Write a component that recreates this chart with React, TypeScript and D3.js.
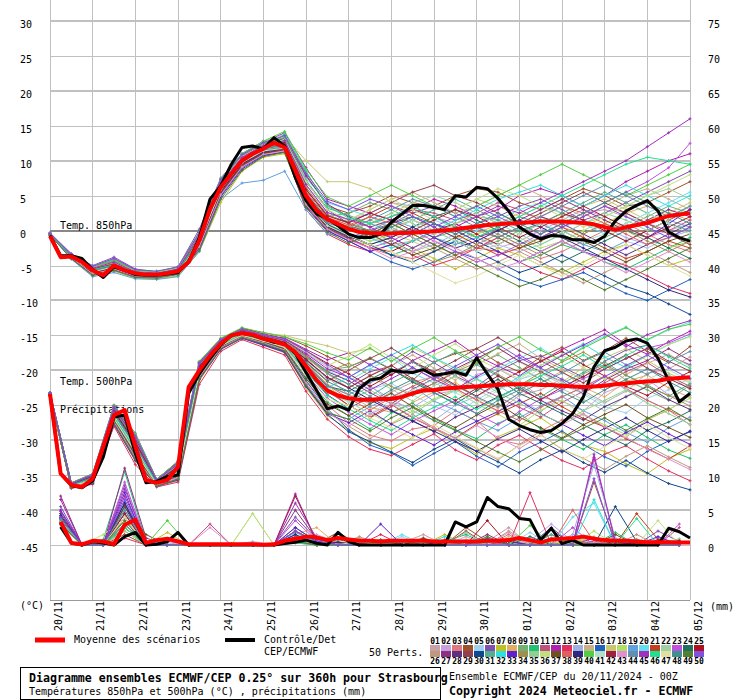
import React from "react";
import * as d3 from "d3";

// ---------- time axes (hours from 20/11 00Z) ----------
const HOURS6 = d3.range(0, 361, 6);
const HOURS12 = d3.range(0, 361, 12);
const PHOURS6 = d3.range(6, 361, 6);
const PHOURS12 = d3.range(6, 355, 12);

const dayLabels = ["20/11","21/11","22/11","23/11","24/11","25/11","26/11","27/11","28/11","29/11","30/11","01/12","02/12","03/12","04/12","05/12"];
const leftTicks = [30,25,20,15,10,5,0,-5,-10,-15,-20,-25,-30,-35,-40,-45];
const rightTicks = [75,70,65,60,55,50,45,40,35,30,25,20,15,10,5,0];

const memberColors = [
"#c8a0a8","#c8a0e0","#e07880","#a05028","#a0d0f0","#8050b0","#c0c020","#e0b060","#70b070","#20c070",
"#c05080","#b020b0","#e03060","#a0b0e0","#c8b088","#2060c0","#c8c870","#b0e060","#60a0e0","#60e0f0",
"#c04020","#a0d0a0","#c050e0","#207060","#b01020","#c09880","#903080","#603080","#904050","#104890",
"#50b090","#30e0e0","#6020d0","#a09050","#90d090","#c0e080","#705020","#e06060","#302880","#50d040",
"#b0e0c8","#a02040","#e090d0","#6090b0","#a030c0","#20e090","#e0e0a0","#409090","#508030","#8050e0"];

// ---------- mean and control (6h) ----------
const t850Mean = [-0.8,-3.8,-3.7,-4.5,-5.7,-6.4,-5.0,-5.7,-6.1,-6.3,-6.3,-6.1,-5.8,-4.5,-1.4,3.1,6.2,8.1,10.0,11.0,11.7,12.6,11.9,8.6,5.0,2.9,1.6,0.95,0.24,-0.2,-0.35,-0.4,-0.4,-0.35,-0.3,-0.2,-0.1,0,0.2,0.4,0.6,0.8,0.9,1.0,1.1,1.2,1.3,1.3,1.3,1.2,1.1,0.9,0.5,0.1,0.5,0.8,1.1,1.6,2.1,2.3,2.5];
const t850Ctrl = [-0.7,-3.6,-3.6,-4.0,-5.6,-6.7,-5.2,-5.7,-6.3,-6.4,-6.4,-6.2,-6.0,-4.5,-1.0,4.5,6.4,9.5,11.9,12.1,11.7,13.3,12.1,7.6,4.3,2.4,1.7,0.7,-0.5,-1.0,-1.0,-0.5,1.2,2.4,3.6,3.6,3.3,3.0,5.0,4.8,6.2,6.0,4.6,2.8,0.5,-0.5,-1.2,-0.7,-0.8,-1.3,-1.3,-1.7,-0.8,1.4,2.8,3.6,4.3,2.8,-0.2,-1.0,-1.5];
const t500Mean = [-23.4,-34.8,-36.4,-36.7,-35.5,-30.9,-26.4,-25.7,-30.9,-35.7,-36.1,-35.7,-33.8,-22.4,-20,-17.9,-16.2,-15.0,-14.7,-14.9,-15.5,-15.8,-16.3,-17.4,-19.4,-21.4,-22.9,-23.6,-24.0,-24.2,-24.2,-24.1,-24.1,-23.8,-23.3,-22.9,-22.8,-22.6,-22.5,-22.4,-22.3,-22.2,-22.1,-22.0,-22.0,-22.0,-22.1,-22.1,-22.2,-22.3,-22.4,-22.3,-22.2,-22.0,-21.9,-21.7,-21.6,-21.5,-21.2,-21.1,-21.0];
const t500Ctrl = [-23.4,-34.8,-36.5,-36.8,-35.8,-32.4,-26.7,-26.4,-31.9,-36.1,-35.9,-35.2,-35.0,-23.3,-20.5,-18.3,-16.4,-15.0,-14.7,-15.0,-15.5,-16.0,-16.2,-17.6,-20.3,-22.9,-25.5,-25.1,-25.7,-22.6,-21.4,-21.1,-20.0,-20.2,-20.3,-19.9,-20.7,-20.5,-20.2,-20.7,-18.2,-20.5,-22.7,-27.0,-27.9,-28.5,-28.9,-28.6,-27.6,-26.2,-23.8,-19.5,-17.2,-16.7,-15.8,-15.5,-16.1,-18.3,-21.5,-24.5,-23.3];
const precipMean = [3.3,0.3,0.1,0.6,0.5,0.1,2.9,3.6,0.3,0.7,0.9,0.5,0.1,0.1,0.1,0.1,0.1,0.1,0.1,0.05,0.1,0.6,0.9,1.2,1.1,0.7,1.0,0.8,0.6,0.6,0.5,0.6,0.6,0.6,0.6,0.5,0.5,0.5,0.5,0.5,0.6,0.6,0.7,1.0,0.7,0.35,0.8,0.9,1.0,1.2,0.9,0.7,0.6,0.6,0.5,0.4,0.4,0.4,0.35,0.35];
const precipCtrl = [2.6,0.3,0,0.5,0.3,0,1.2,1.8,0,0.1,0.5,1.8,0,0,0,0,0,0,0,0,0,0.2,0.4,0.7,0.25,0,1.8,0.5,0,0,0,0,0,0,0,0,0,3.3,2.6,3.3,6.8,5.5,5.2,3.8,3.6,0.7,2.4,0.2,0.7,0,0,0,0,0,0,0,0,2.4,1.9,1.0];

// ---------- 50 perturbed members (12h) ----------
const t850Members = [
[-0.5,-3.6,-5.5,-4.8,-6.0,-6.4,-5.9,-1.0,6.5,10.2,12.0,12.5,5.5,1.5,0.5,-1,-2,-1.5,-0.5,1,2,1.5,0.5,-0.5,1,2.5,3,2,1,2,3.5],
[-0.4,-3.8,-5.9,-5.2,-6.2,-6.1,-5.6,-1.8,5.8,9.8,11.5,12.8,6.5,2.5,1.5,2.5,4,3.5,2,1,-1,-2.5,-1.5,0,1.5,3,2,0.5,-1,0,1],
[-0.6,-3.9,-6.2,-5.5,-6.5,-6.6,-6.0,-2.5,5.0,9.0,11.0,11.8,4.0,0.5,-1,-2.5,-3.5,-4,-3,-1.5,0,-1,-2.5,-4,-3,-1.5,0,1,-0.5,-2,-3],
[-0.5,-3.5,-5.3,-4.2,-5.8,-6.2,-5.5,-0.5,7.0,10.8,12.5,13.5,8.0,3.5,2.5,3.5,5,4,3.5,5,6,5.5,4,3,4.5,6,5,3.5,4,5.5,7],
[-0.5,-3.7,-5.7,-5.0,-6.1,-6.3,-5.8,-1.5,6.0,10.0,11.8,12.2,4.5,1.0,-0.5,-1.5,-1,0.5,1.5,0.5,-1,-2,-3,-2,-0.5,1,0,-1.5,-2.5,-1,0.5],
[-0.3,-3.4,-5.0,-3.8,-5.5,-5.9,-5.2,0.2,7.5,11.0,12.8,13.2,7.0,3.0,1.0,0,1,2.5,3.5,2.5,1,2,3.5,4.5,3,1.5,2.5,4,5.5,7,8.5],
[-0.6,-4.0,-6.5,-5.8,-6.8,-6.9,-6.5,-3.0,4.0,8.5,10.5,11.0,3.5,0.5,-1.5,-2,-1,-2.5,-4,-5.5,-4,-2.5,-3.5,-5,-6,-4.5,-3,-2,-3.5,-5,-4],
[-0.5,-3.6,-5.6,-5.1,-6.0,-6.2,-5.7,-1.2,6.3,10.1,11.6,12.0,5.0,1.8,0.8,-0.5,0.5,1.5,0.5,-1,-0.5,1,2.5,2,0.5,-0.5,1,2.5,3.5,2.5,1.5],
[-0.4,-3.5,-5.4,-4.5,-5.9,-6.0,-5.4,-0.8,6.8,10.5,12.2,12.8,6.0,2.0,2.5,4,3,1.5,0,-1.5,-2.5,-1.5,0,1,-0.5,-2,-1,0.5,2,3.5,2.5],
[-0.5,-3.8,-6.0,-5.3,-6.4,-6.5,-6.0,-2.0,5.5,9.5,11.2,11.5,4.2,0.8,-0.8,-2,-3.5,-2.5,-1,0,-1.5,-3,-4.5,-3.5,-2,-3,-4.5,-5.5,-4,-2.5,-1],
[-0.5,-3.7,-5.8,-4.9,-6.2,-6.4,-5.9,-1.3,6.2,9.9,11.4,12.4,4.8,1.2,0.2,1,2,3,2.5,1.5,2.5,4,3,1.5,0.5,2,3.5,2.5,1,0,1.5],
[-0.4,-3.3,-5.2,-4.0,-5.6,-6.0,-5.3,-0.3,7.2,10.8,12.6,14.0,9.0,4.5,3.5,2.5,1.5,3,4.5,3.5,2,3,5,6,5,3.5,5,7,8.5,10,11],
[-0.6,-3.9,-6.1,-5.4,-6.3,-6.5,-6.1,-2.2,5.2,9.2,11.0,11.5,3.0,-0.5,-2,-3,-2,-3.5,-5,-4,-2.5,-3,-4.5,-6,-7,-5.5,-4,-5,-6.5,-8,-9],
[-0.5,-3.6,-5.6,-4.9,-6.0,-6.2,-5.7,-1.4,6.1,10.0,11.7,12.1,5.0,1.5,0.3,-0.5,-2,-3,-2,-0.5,0.5,-0.5,-2,-1,0.5,1.5,0.5,-1,-2,-1,0],
[-0.5,-3.7,-5.7,-5.1,-6.1,-6.3,-5.9,-1.6,5.9,9.8,11.5,12.0,4.6,1.3,1.5,3,4.5,5.5,4,2.5,3.5,5,6.5,5,3.5,2,3.5,5,6,4.5,3],
[-0.5,-3.8,-5.9,-5.3,-6.3,-6.6,-6.2,-2.4,5.0,9.0,10.8,11.2,3.8,0,-1.5,-3,-4.5,-5.5,-4.5,-3,-4,-5.5,-7,-8,-7,-6,-7.5,-9,-10,-8.5,-7],
[-0.4,-3.5,-5.4,-4.6,-5.9,-6.1,-5.5,-0.7,6.9,10.6,12.3,13.5,10,7,7,6,4,3,2,3,4.5,3.5,2,1,2,3.5,4.5,3,1.5,2.5,4],
[-0.5,-3.7,-5.8,-5.0,-6.2,-6.3,-5.8,-1.5,6.0,9.9,11.6,11.9,4.4,1.0,-0.5,-1.5,-0.5,-1.5,-3,-2,-0.5,0.5,-1,-2.5,-1.5,0,1.5,0.5,-1,-2.5,-1.5],
[-0.6,-4.1,-6.6,-6.0,-6.9,-7.0,-6.6,-3.0,4.5,6.8,7.2,8.5,3.0,-0.5,-1,0,1.5,0.5,-1,-2,-1,0.5,2,1,-0.5,-2,-3,-1.5,0,1.5,0.5],
[-0.5,-3.6,-5.5,-4.7,-6.0,-6.2,-5.6,-1.1,6.4,10.3,12.1,13.0,7.5,4.0,3,2,0.5,-1,-2.5,-1.5,0,1.5,3,4,2.5,1,-0.5,1,2.5,4,5.5],
[-0.5,-3.7,-5.7,-5.0,-6.1,-6.4,-5.9,-1.5,6.0,9.8,11.5,12.2,5.2,1.6,0.5,2,3.5,2.5,1,-0.5,-2,-3.5,-2.5,-1,0.5,-1,-2.5,-4,-3,-1.5,-2.5],
[-0.4,-3.4,-5.1,-4.1,-5.7,-5.9,-5.3,-0.4,7.3,10.9,12.7,13.8,8.5,3.5,2,1,2.5,4,5,4,2.5,1,2,3.5,2.5,1,2,3.5,5,6,4.5],
[-0.5,-3.8,-5.9,-5.2,-6.3,-6.4,-5.9,-1.7,5.8,9.6,11.3,11.8,4.0,0.5,-1,-2.5,-1.5,0,-1.5,-3,-4.5,-3.5,-2,-0.5,1,2.5,4,5.5,7,9,12.5],
[-0.5,-3.6,-5.6,-5.0,-6.0,-6.2,-5.7,-1.3,6.2,10.1,11.8,12.3,5.3,1.7,0.5,0,-1,0.5,2,3,1.5,0,-1.5,-3,-4.5,-3,-1.5,0,-1,-2.5,-4],
[-0.6,-3.9,-6.0,-5.4,-6.4,-6.5,-6.0,-2.1,5.4,9.4,11.1,11.6,3.6,0.2,-1.2,-2.5,-3,-1.5,0,1,-0.5,-2,-0.5,1,2.5,1.5,0,-1.5,0,1.5,3],
[-0.5,-3.7,-5.7,-5.1,-6.1,-6.3,-5.8,-1.4,6.1,9.9,11.6,12.1,4.9,1.4,0.4,1.5,0.5,-1,-2.5,-4,-5.5,-4.5,-3,-4.5,-6,-7.5,-6,-4.5,-3,-4.5,-6],
[-0.4,-3.5,-5.3,-4.4,-5.8,-6.0,-5.4,-0.6,7.0,10.7,12.4,13.2,7.8,3.8,2,0.5,1.5,3,2,0.5,-1,0,1.5,3,4.5,3,1.5,0,1.5,3,2],
[-0.5,-3.8,-6.0,-5.2,-6.3,-6.5,-6.0,-1.9,5.6,9.5,11.2,11.7,4.1,0.6,-1,-0.5,1,2,0.5,-1,-2.5,-1,0.5,2,1,-0.5,-2,-3.5,-2,-0.5,1],
[-0.5,-3.6,-5.6,-4.8,-6.0,-6.2,-5.7,-1.2,6.4,10.2,11.9,12.5,5.8,2.2,1.2,2.5,4,5.5,6.5,5,4,2.5,1,2.5,4,5.5,4,2.5,1,-0.5,-2],
[-0.5,-3.7,-5.8,-5.0,-6.2,-6.4,-5.9,-1.6,5.9,9.8,11.4,11.9,4.3,0.9,-0.6,-2,-3.5,-4.5,-3,-1.5,-3,-4.5,-6,-5,-3.5,-5,-6.5,-8,-9,-10.5,-12],
[-0.4,-3.4,-5.2,-4.3,-5.7,-5.9,-5.3,-0.5,7.1,10.8,12.5,13.3,7.2,3.2,2.2,1,0,1.5,3,4.5,3,1.5,0,1,2.5,4,5.5,4,2.5,1,0],
[-0.5,-3.7,-5.7,-5.0,-6.1,-6.3,-5.8,-1.4,6.1,10.0,11.7,12.2,5.1,1.5,0.6,-1,-2.5,-1.5,0,1.5,3,4.5,5.5,6.5,5,3.5,5,6.5,5,3.5,5],
[-0.6,-4.0,-6.3,-5.6,-6.6,-6.7,-6.2,-2.6,4.8,8.8,10.7,11.3,3.4,0,-1.5,-3,-2,-0.5,1,0,-1.5,-3,-4.5,-3,-1.5,-3,-4,-2.5,-1,1,3],
[-0.5,-3.6,-5.5,-4.7,-6.0,-6.2,-5.6,-1.0,6.6,10.4,12.1,12.7,6.2,2.3,1,0,-1.5,-3,-4.5,-3.5,-2,-0.5,-2,-3.5,-2,-0.5,1,0,-1.5,-3,-1.5],
[-0.5,-3.7,-5.8,-5.1,-6.2,-6.4,-5.9,-1.5,6.0,9.8,11.5,12.0,4.7,1.2,0,1,2.5,1,-0.5,1,2.5,1,-0.5,-2,-0.5,1,2.5,1.5,0,1.5,3.5],
[-0.4,-3.5,-5.3,-4.5,-5.8,-6.0,-5.4,-0.7,6.9,10.6,12.3,13.0,7.0,3.0,1.5,3,4.5,3,1.5,3,4.5,6,5,3.5,2,0.5,2,3.5,5,6.5,8],
[-0.6,-3.9,-6.1,-5.5,-6.4,-6.6,-6.1,-2.2,5.3,9.3,11.0,11.6,3.9,0.4,-1.2,-0.5,-2,-3.5,-2.5,-1,0.5,-1,-2.5,-1.5,0,-1.5,-3,-4.5,-3,-1.5,-0.5],
[-0.5,-3.6,-5.6,-4.9,-6.0,-6.2,-5.7,-1.3,6.3,10.1,11.8,12.4,5.6,1.9,0.8,2,1,-0.5,-2,-3.5,-2.5,-1,0.5,2,3.5,2.5,1,-0.5,-2,-1,0.5],
[-0.5,-3.8,-5.9,-5.2,-6.3,-6.5,-6.0,-1.8,5.7,9.6,11.3,11.8,4.2,0.6,-0.8,-2,-1,0.5,-1,-2.5,-1.5,0,1.5,0.5,-1,-2.5,-4,-5.5,-7,-8.5,-9.5],
[-0.4,-3.4,-5.2,-4.2,-5.7,-5.9,-5.2,-0.2,7.4,11.0,12.8,14.2,8.8,4.8,3.5,5,6.5,5,3.5,2,3.5,5,6.5,8,9.5,8,6.5,5,6.5,8,9.5],
[-0.5,-3.7,-5.7,-5.0,-6.1,-6.3,-5.8,-1.4,6.1,9.9,11.6,12.1,4.8,1.3,0.2,-1,0,1.5,0,-1.5,-3,-2,-0.5,1,0,-1.5,-0.5,1,2.5,1,-0.5],
[-0.5,-3.6,-5.5,-4.8,-6.0,-6.2,-5.6,-1.1,6.5,10.3,12.0,12.6,5.9,2.1,1.1,2.5,1.5,0,1.5,3,2,0.5,-1,0.5,2,3.5,2,0.5,-1,0.5,2],
[-0.6,-3.9,-6.2,-5.5,-6.5,-6.6,-6.1,-2.3,5.1,9.1,10.9,11.4,3.7,0.2,-1.3,-2.5,-4,-3,-1.5,-2.5,-4,-5.5,-4.5,-3,-1.5,-3,-4.5,-6,-4.5,-3,-4.5],
[-0.5,-3.7,-5.8,-5.1,-6.1,-6.3,-5.8,-1.5,6.0,9.9,11.5,12.0,4.6,1.1,0.1,1.5,3,4.5,3.5,2,0.5,-1,0.5,2,3.5,5,6.5,5,3.5,2,3.5],
[-0.4,-3.5,-5.4,-4.5,-5.9,-6.1,-5.5,-0.7,6.8,10.5,12.2,12.9,6.6,2.6,1.6,0.5,-1,-2.5,-1,0.5,2,3.5,2.5,4,5.5,7,8.5,10,12,14,16],
[-0.5,-3.6,-5.6,-4.9,-6.0,-6.2,-5.7,-1.2,6.3,10.1,11.8,13.8,8.5,3.5,1.8,1,2,3.5,2,0.5,-1,0.5,2,3.5,5,6.5,8,9.5,10.5,10,9.5],
[-0.5,-3.8,-5.9,-5.2,-6.2,-6.4,-5.9,-1.7,5.8,9.7,11.4,11.8,4.1,0.7,-0.7,-2,-3,-4.5,-6,-7.5,-6.5,-5,-3.5,-5,-6.5,-5,-3.5,-2,-3.5,-5,-6.5],
[-0.5,-3.7,-5.7,-5.0,-6.1,-6.3,-5.8,-1.4,6.2,10.0,11.7,12.2,5.0,1.4,0.3,-1,0.5,2,1,-0.5,1,2.5,1,-0.5,1,2.5,4,5.5,4,2.5,1],
[-0.6,-4.0,-6.4,-5.7,-6.7,-6.8,-6.3,-2.8,4.5,8.6,10.6,11.2,3.3,-0.2,-1.8,-0.5,1,-0.5,-2,-3.5,-5,-6.5,-8,-7,-5.5,-7,-8.5,-7,-5.5,-4,-2.5],
[-0.4,-3.4,-5.1,-4.0,-5.6,-5.8,-5.2,-0.3,7.3,10.9,12.6,13.6,8.2,4.2,3,4.5,3.5,2,0.5,2,3.5,2,0.5,-1,0.5,2,3.5,2,0.5,-1,0.5]];

const t500Members = [
[-23.4,-36.5,-35.3,-26.0,-30.5,-36.0,-34.0,-19.5,-16.0,-14.5,-15.3,-16.0,-18.5,-21.0,-23.5,-24.8,-23.1,-21.7,-20.9,-22.6,-24.3,-25.9,-23.6,-22.8,-21.2,-22.9,-24.6,-23.0,-20.4,-19.8,-18.1],
[-23.2,-36.2,-35.0,-25.5,-29.8,-35.8,-33.5,-19.0,-15.8,-14.3,-15.0,-15.5,-17.5,-19.5,-21,-22.2,-24.6,-25.3,-23.4,-22.9,-20.6,-19.8,-21.5,-23.9,-24.4,-25.8,-23.2,-22.0,-21.3,-23.5,-24.6],
[-23.6,-36.8,-36.2,-27.5,-32.5,-36.5,-35.5,-21.0,-16.8,-15.2,-16.0,-17.0,-21.5,-25.0,-27.5,-29.3,-30.1,-28.4,-27.9,-25.8,-27.2,-29.9,-30.6,-28.7,-27.1,-26.3,-28.2,-29.6,-27.0,-25.7,-27.8],
[-23.3,-36.3,-35.2,-25.8,-30.2,-35.9,-33.8,-19.2,-15.6,-14.0,-14.6,-15.2,-16.5,-18.0,-19.5,-18.3,-19.9,-21.4,-18.8,-17.6,-16.9,-18.9,-20.2,-18.1,-16.7,-18.6,-17.2,-15.4,-17.3,-18.9,-16.6],
[-23.4,-36.4,-35.5,-26.4,-31.0,-36.1,-34.5,-20.0,-16.2,-14.7,-15.5,-16.3,-19.5,-22.5,-24.5,-22.7,-21.9,-23.5,-25.1,-26.4,-24.2,-22.6,-21.3,-20.4,-22.0,-23.4,-25.2,-26.1,-24.0,-22.8,-21.1],
[-23.2,-36.1,-34.8,-25.0,-29.0,-35.6,-33.0,-18.8,-15.5,-14.0,-14.8,-15.6,-18.0,-20.5,-22,-20.2,-19.4,-17.3,-18.9,-20.8,-22.3,-20.1,-18.6,-17.9,-19.5,-21.0,-18.7,-17.1,-16.4,-17.9,-19.2],
[-23.5,-36.7,-36.0,-27.8,-33.0,-36.6,-35.8,-21.5,-17.0,-15.4,-16.4,-17.5,-22.5,-26.5,-28.5,-30.4,-31.2,-29.6,-28.3,-30.1,-32.0,-29.5,-28.2,-26.8,-28.9,-30.7,-31.6,-33.4,-34.8,-32.6,-31.3],
[-23.4,-36.4,-35.4,-26.2,-30.8,-36.0,-34.3,-19.8,-16.1,-14.6,-15.4,-16.2,-19.0,-22.0,-23.5,-25.3,-26.0,-24.6,-23.1,-21.7,-23.9,-25.4,-23.2,-21.8,-20.1,-22.4,-23.8,-21.6,-20.7,-22.5,-23.9],
[-23.3,-36.3,-35.1,-25.6,-30.0,-35.8,-33.6,-19.3,-15.8,-14.2,-15.0,-15.8,-18.2,-20.0,-19.5,-18.2,-19.8,-21.6,-22.9,-20.7,-19.1,-17.8,-19.6,-21.3,-22.7,-20.5,-19.2,-21.4,-22.8,-24.3,-22.1],
[-23.5,-36.6,-35.8,-27.0,-32.0,-36.3,-35.0,-20.5,-16.5,-15.0,-15.8,-16.8,-21.0,-24.5,-26.5,-28.4,-26.1,-24.7,-26.9,-28.5,-29.8,-27.6,-26.2,-28.4,-29.9,-31.3,-29.2,-27.8,-29.6,-31.4,-32.6],
[-23.4,-36.4,-35.5,-26.5,-31.2,-36.1,-34.6,-20.1,-16.3,-14.8,-15.6,-16.4,-19.8,-23.0,-25,-26.8,-25.2,-23.1,-21.9,-20.3,-22.4,-23.8,-25.3,-26.7,-24.6,-23.0,-21.8,-20.2,-18.9,-20.8,-22.3],
[-23.2,-36.2,-34.9,-25.2,-29.5,-35.7,-33.2,-18.9,-15.6,-14.1,-14.9,-15.4,-17.0,-18.5,-17.5,-19.2,-20.7,-18.6,-17.2,-15.8,-17.9,-19.4,-20.8,-18.7,-17.0,-15.6,-14.2,-16.3,-17.7,-15.9,-14.4],
[-23.6,-36.9,-36.3,-28.0,-33.5,-36.7,-36.0,-22.0,-17.3,-15.6,-16.7,-17.8,-23.0,-27.0,-29.5,-31.3,-32.2,-30.6,-29.1,-31.4,-32.8,-30.7,-29.3,-31.2,-32.9,-34.1,-32.0,-30.8,-32.7,-34.4,-35.8],
[-23.4,-36.5,-35.6,-26.6,-31.3,-36.2,-34.7,-20.2,-16.4,-14.8,-15.7,-16.5,-20.0,-23.2,-24,-22.3,-24.1,-25.8,-27.2,-25.0,-23.7,-22.1,-24.2,-25.9,-23.8,-22.4,-20.9,-22.8,-24.3,-25.7,-23.6],
[-23.3,-36.3,-35.2,-25.8,-30.1,-35.9,-33.7,-19.4,-15.9,-14.4,-15.1,-15.9,-18.3,-20.5,-22.5,-20.7,-19.3,-17.8,-19.7,-21.4,-19.2,-17.6,-16.2,-18.3,-19.8,-21.3,-22.9,-20.6,-19.0,-17.7,-19.4],
[-23.5,-36.6,-35.9,-27.2,-32.3,-36.4,-35.2,-20.8,-16.7,-15.1,-16.0,-17.0,-21.5,-25.5,-28.5,-30.7,-31.8,-33.6,-31.9,-30.2,-32.3,-33.8,-31.7,-30.3,-28.7,-30.6,-32.4,-33.7,-31.6,-30.1,-28.8],
[-23.2,-36.2,-35.0,-25.4,-29.6,-35.7,-33.3,-19.0,-15.7,-14.2,-14.7,-15.0,-15.8,-16.5,-17.5,-16.9,-18.7,-16.8,-18.2,-20.1,-18.4,-16.7,-18.8,-20.3,-21.7,-19.6,-18.2,-16.9,-18.6,-20.4,-21.8],
[-23.4,-36.4,-35.4,-26.3,-30.9,-36.1,-34.4,-19.9,-16.1,-14.6,-15.4,-16.2,-19.2,-22.2,-24.5,-26.2,-27.6,-25.8,-24.1,-22.7,-24.8,-26.3,-27.9,-25.7,-24.3,-26.4,-27.8,-29.2,-27.1,-25.6,-24.0],
[-23.6,-36.8,-36.1,-27.6,-32.8,-36.6,-35.6,-21.2,-16.9,-15.3,-16.2,-17.2,-22.0,-26.0,-27,-25.2,-23.8,-22.3,-24.4,-25.7,-27.3,-28.6,-26.8,-25.1,-23.7,-25.8,-27.2,-28.9,-30.3,-28.2,-26.7],
[-23.3,-36.3,-35.1,-25.7,-30.1,-35.8,-33.7,-19.3,-15.8,-14.3,-15.1,-15.9,-18.0,-20.0,-21.5,-19.8,-18.2,-20.4,-21.8,-23.2,-21.1,-19.7,-18.3,-16.8,-18.7,-16.6,-15.1,-13.8,-15.7,-14.2,-13.1],
[-23.4,-36.5,-35.5,-26.5,-31.1,-36.1,-34.5,-20.0,-16.2,-14.7,-15.5,-16.3,-19.6,-22.8,-25,-26.7,-24.9,-26.8,-28.3,-29.7,-27.7,-26.2,-24.8,-23.3,-25.2,-26.9,-28.1,-29.8,-31.2,-32.7,-30.8],
[-23.3,-36.3,-35.2,-25.9,-30.3,-35.9,-33.9,-19.5,-15.9,-14.4,-15.2,-16.0,-18.6,-21.2,-22.5,-20.8,-22.7,-24.4,-22.2,-20.9,-22.8,-24.3,-22.1,-20.8,-22.6,-24.2,-25.8,-23.7,-22.2,-20.6,-22.8],
[-23.5,-36.6,-35.7,-26.9,-31.8,-36.3,-34.9,-20.4,-16.5,-15.0,-15.8,-16.7,-20.5,-24.0,-26,-27.7,-29.2,-27.3,-25.8,-24.3,-26.2,-27.8,-25.9,-24.1,-22.8,-21.2,-19.8,-18.3,-16.8,-16.1,-14.8],
[-23.4,-36.4,-35.4,-26.3,-30.9,-36.0,-34.4,-19.9,-16.1,-14.6,-15.4,-16.2,-19.3,-22.3,-23,-21.3,-19.8,-21.7,-23.2,-24.8,-22.9,-21.3,-23.3,-24.7,-26.2,-27.8,-29.3,-30.7,-28.6,-27.4,-25.8],
[-23.2,-36.1,-34.9,-25.1,-29.3,-35.6,-33.1,-18.8,-15.5,-14.0,-14.8,-15.5,-17.2,-19.0,-20.5,-22.3,-20.6,-18.8,-20.3,-22.1,-23.7,-21.8,-20.2,-18.7,-17.3,-19.2,-20.8,-22.3,-23.6,-21.7,-20.2],
[-23.5,-36.7,-35.9,-27.3,-32.4,-36.4,-35.3,-20.9,-16.8,-15.2,-16.1,-17.1,-21.8,-25.8,-28,-29.8,-27.7,-26.3,-28.2,-29.7,-31.2,-32.8,-30.7,-29.2,-31.3,-32.6,-34.2,-32.3,-30.8,-32.4,-33.9],
[-23.3,-36.2,-35.0,-25.5,-29.7,-35.7,-33.4,-19.1,-15.7,-14.2,-15.0,-15.7,-17.8,-20.2,-21.5,-23.2,-24.8,-22.7,-21.2,-19.8,-18.3,-16.8,-18.7,-20.2,-21.6,-23.3,-21.4,-19.8,-18.6,-16.9,-18.6],
[-23.4,-36.5,-35.6,-26.7,-31.4,-36.2,-34.7,-20.2,-16.4,-14.9,-15.7,-16.5,-20.1,-23.5,-25.5,-23.8,-25.7,-27.2,-28.8,-26.7,-25.3,-23.8,-22.4,-24.3,-25.8,-27.1,-25.2,-23.8,-22.3,-24.2,-25.6],
[-23.4,-36.4,-35.3,-26.1,-30.6,-36.0,-34.2,-19.7,-16.0,-14.5,-15.3,-16.1,-18.8,-21.5,-20,-18.3,-16.8,-18.7,-20.2,-18.6,-16.9,-15.3,-17.2,-18.6,-20.3,-21.8,-19.8,-18.3,-16.9,-18.7,-20.1],
[-23.5,-36.7,-36.0,-27.5,-32.6,-36.5,-35.5,-21.1,-16.9,-15.3,-16.3,-17.3,-22.3,-26.3,-28.8,-30.2,-31.7,-33.2,-31.3,-29.8,-31.6,-33.1,-34.7,-32.8,-31.4,-33.2,-34.6,-32.9,-34.7,-36.2,-37.1],
[-23.3,-36.3,-35.1,-25.6,-30.0,-35.8,-33.6,-19.2,-15.8,-14.3,-15.0,-15.8,-18.1,-20.4,-22,-23.7,-21.8,-20.3,-18.9,-17.4,-19.2,-20.8,-22.2,-23.8,-21.9,-20.3,-18.8,-20.7,-22.1,-23.7,-21.9],
[-23.4,-36.4,-35.5,-26.4,-31.0,-36.1,-34.5,-20.0,-16.2,-14.7,-15.5,-16.3,-19.5,-22.5,-21,-19.3,-17.8,-16.4,-18.2,-19.7,-21.2,-22.8,-20.9,-19.3,-17.8,-16.2,-18.1,-19.6,-17.9,-16.3,-15.1],
[-23.6,-36.8,-36.2,-27.7,-32.9,-36.6,-35.7,-21.3,-17.0,-15.4,-16.4,-17.4,-22.2,-26.2,-27.5,-25.8,-27.7,-29.2,-30.7,-28.8,-27.3,-25.9,-24.3,-26.2,-27.7,-29.3,-30.8,-28.9,-27.4,-29.1,-30.6],
[-23.3,-36.3,-35.2,-25.8,-30.2,-35.9,-33.8,-19.4,-15.9,-14.3,-15.1,-15.8,-18.0,-20.2,-19,-20.7,-22.3,-23.6,-21.8,-20.2,-18.9,-20.6,-22.2,-20.3,-18.8,-17.4,-19.2,-20.7,-22.3,-23.6,-25.1],
[-23.4,-36.5,-35.6,-26.6,-31.3,-36.2,-34.6,-20.1,-16.3,-14.8,-15.6,-16.4,-19.9,-23.1,-24.5,-22.8,-24.6,-26.2,-24.3,-22.9,-21.3,-23.2,-24.7,-26.3,-27.6,-25.8,-24.3,-22.8,-24.7,-26.2,-27.7],
[-23.2,-36.2,-34.9,-25.3,-29.5,-35.7,-33.3,-18.9,-15.6,-14.1,-14.9,-15.6,-17.4,-19.3,-18,-16.3,-18.2,-19.7,-17.8,-16.2,-18.3,-19.8,-21.2,-19.3,-17.8,-19.6,-21.3,-19.4,-17.9,-16.3,-15.2],
[-23.5,-36.6,-35.8,-27.1,-32.1,-36.3,-35.1,-20.6,-16.6,-15.1,-15.9,-16.9,-21.2,-24.8,-26.5,-24.8,-23.3,-25.2,-26.8,-28.2,-26.4,-24.8,-26.7,-28.2,-29.7,-27.8,-26.3,-24.9,-26.8,-28.2,-29.6],
[-23.4,-36.4,-35.4,-26.2,-30.7,-36.0,-34.3,-19.8,-16.1,-14.6,-15.4,-16.2,-19.1,-22.1,-24,-25.7,-23.9,-22.3,-20.8,-22.6,-24.2,-25.8,-27.2,-25.3,-23.8,-22.4,-20.8,-22.6,-24.3,-25.7,-27.1],
[-23.3,-36.3,-35.2,-25.9,-30.4,-35.9,-33.9,-19.5,-16.0,-14.4,-15.2,-16.0,-18.5,-21.0,-22.5,-24.2,-25.8,-27.3,-28.7,-30.2,-31.6,-29.8,-28.4,-30.1,-31.7,-29.9,-28.3,-26.8,-28.6,-30.2,-28.7],
[-23.2,-36.1,-34.8,-25.0,-29.1,-35.6,-33.0,-18.7,-15.4,-13.9,-14.6,-15.2,-16.2,-17.5,-18.5,-16.8,-18.7,-16.9,-15.3,-17.2,-18.8,-16.7,-15.2,-17.1,-18.6,-16.8,-15.3,-13.9,-15.6,-14.1,-13.4],
[-23.4,-36.5,-35.5,-26.5,-31.1,-36.1,-34.5,-20.0,-16.2,-14.7,-15.5,-16.3,-19.7,-22.9,-24.5,-26.2,-24.3,-22.8,-21.3,-23.2,-24.7,-22.9,-21.4,-19.8,-21.7,-23.2,-24.8,-22.7,-21.3,-19.9,-21.6],
[-23.3,-36.3,-35.2,-25.8,-30.2,-35.9,-33.8,-19.4,-15.9,-14.4,-15.2,-16.0,-18.4,-21.0,-22.5,-20.8,-19.3,-21.2,-22.8,-24.3,-22.6,-20.8,-22.7,-24.2,-22.4,-20.9,-19.4,-17.8,-19.7,-21.2,-22.6],
[-23.5,-36.7,-35.9,-27.4,-32.5,-36.5,-35.4,-21.0,-16.8,-15.2,-16.1,-17.1,-21.9,-26.0,-28,-26.3,-24.8,-26.7,-28.2,-29.8,-27.9,-29.6,-31.2,-29.3,-27.8,-26.2,-28.1,-29.6,-31.3,-32.7,-34.2],
[-23.4,-36.4,-35.4,-26.3,-30.8,-36.0,-34.3,-19.8,-16.1,-14.6,-15.4,-16.2,-19.2,-22.2,-23.5,-21.8,-20.3,-18.8,-20.7,-22.2,-23.8,-25.2,-23.3,-21.8,-20.4,-18.7,-17.4,-19.2,-20.6,-18.8,-17.3],
[-23.3,-36.2,-35.0,-25.4,-29.7,-35.7,-33.4,-19.0,-15.7,-14.2,-15.0,-15.7,-17.6,-19.8,-21,-22.8,-21.2,-19.6,-21.3,-22.7,-20.9,-19.3,-17.8,-19.6,-17.9,-16.4,-14.8,-16.6,-14.9,-13.8,-12.9],
[-23.4,-36.5,-35.6,-26.7,-31.4,-36.2,-34.7,-20.2,-16.4,-14.9,-15.7,-16.5,-20.2,-23.6,-25.5,-27.2,-28.6,-26.8,-25.3,-23.8,-25.6,-23.9,-22.3,-20.8,-19.4,-17.8,-19.6,-17.9,-16.3,-18.1,-19.7],
[-23.5,-36.6,-35.7,-26.9,-31.7,-36.3,-34.9,-20.4,-16.5,-15.0,-15.8,-16.7,-20.6,-24.2,-25,-26.8,-28.2,-29.7,-27.8,-29.4,-31.1,-32.6,-30.8,-29.3,-31.2,-32.7,-30.9,-29.4,-27.8,-29.6,-31.2],
[-23.4,-36.4,-35.3,-26.1,-30.6,-36.0,-34.2,-19.7,-16.0,-14.5,-15.3,-16.1,-18.9,-21.6,-23,-24.6,-22.8,-21.3,-23.2,-24.7,-26.2,-24.3,-22.8,-21.2,-23.1,-24.6,-22.8,-21.3,-19.8,-21.6,-23.2],
[-23.6,-36.8,-36.1,-27.6,-32.7,-36.6,-35.6,-21.2,-16.9,-15.3,-16.2,-17.2,-22.1,-26.1,-27,-28.7,-26.8,-25.3,-27.2,-28.6,-30.2,-31.7,-33.1,-31.4,-29.8,-28.3,-26.8,-28.6,-26.9,-25.4,-27.2],
[-23.2,-36.2,-34.9,-25.2,-29.4,-35.7,-33.2,-18.9,-15.6,-14.1,-14.9,-15.5,-17.2,-19.2,-21,-19.2,-17.8,-19.6,-21.2,-19.4,-17.8,-16.3,-18.2,-19.7,-21.3,-22.8,-20.9,-19.3,-17.8,-19.6,-21.2]];

const precipMembers = [
[3.5,0,0.3,4.5,0.2,0,0,0,0,0,0,1.2,0.5,0,0.8,0,0.3,1.5,0,0,0.5,2.5,0,0,1,0.3,0,0,0.5,0],
[3.0,0,0,2.5,0,0.3,0,0,0,0.5,0,0.8,1.5,0.3,0,0,0,0.5,0,1.2,0,0,0.6,3,0.5,0,0,0,1,0.3],
[4.0,0.2,0.5,6.0,0.5,0,0,0,0,0,0,2.0,0.3,0,0,0.5,0,0,0.8,0,0,1.5,0,0,0.3,0,0.4,0.8,0,0],
[3.2,0,0,1.5,0,0,0,0,0.2,0,0,0.5,0.2,1.8,0,0,0,0,0,2.5,0.5,0,0,0,0,9,0.5,0.2,0,0],
[2.8,0,0,3.0,0.3,0,0,0,0,0,0,0.3,0,0,0.5,0,1.2,0,0,0,0.3,0,1.8,0,0,0.5,0,0,0,0.6],
[5.5,0,0.2,8.5,0,0,0,0,0,0,0,4.0,0.8,0,0,0,0,0.6,0,0.4,0,0,0,1.5,0,0,0,0,2,0.5],
[3.8,0,0,2.0,0,1.8,0,0,0,0,0,0.8,0,0.3,0,0,0,0,1.5,0,0,0,0.5,0,0,0,0.8,0,0,0],
[3.5,0.3,0,5.0,0.2,0,0,0,0,0,0,1.5,2.5,0,0,0,0.4,0,0,0,0.6,0,0,0,0.3,1.2,0,0,0,0.8],
[4.2,0,0,3.5,0,0,0,0,0,0.3,0,0.6,0,0.5,0,0.8,0,0,0,0,0,0.5,0,1,0,0,0,0.4,0,0],
[3.0,0,0.8,10.5,0.5,0,0,0,0,0,0,2.5,0.4,0,0,0,0,0,0.5,1.5,0,0,0,0,0,0,1.8,0,0,0.3],
[3.6,0,0,4.0,0,0,0,3.0,0,0,0,0.9,0,0,0,0.4,0,0,0,0,0.8,0,0,0,0.6,0,0,0,0,2.5],
[6.5,0,0,7.0,0.3,0,0,0,0,0,0,7.3,0.5,0,0.3,0,0,0,0,0,0,0,0,0,0,12.5,0.5,0,0.3,0],
[3.3,0,0,1.0,0,0,0,0,0,0,0,0.4,0,0,0,1.5,0,0,0,0,0,0,7.5,0,0,0.5,0,0,0,0],
[3.4,0,0,4.5,0,0.5,0,0,0,0,0,0.5,0.8,0,0,0,0,0,0,0,0,0,0,0,1.5,11.5,1,0,0,0],
[2.9,0,0,2.0,0,0,0,0,0,0,0,0.3,0,0,1.0,0,0,0.5,0,0,0,0,0.4,0,0,0,0,0,0,0],
[3.7,0.2,0,5.5,0.4,0,0,0,0,0,0,1.0,0.3,0,0,0,0.6,0,0,0,1,0,0,2.5,0,0.5,0,0,0,0],
[3.1,0,0,3.0,0,0,0,0,0,0,0,0.6,0,0,0,0,0,0.3,0,0.8,0,1.2,0,0,0,0,0,0.5,0,0],
[4.5,0,0,2.5,0,0,0,0,0,4.5,0,0.5,0,0,0,0,0,0,0,0,0,0,0,0,0,2,0,0,0,0],
[3.5,0,0,6.5,0.6,0,0,0,0,0,0,1.8,0.5,1,0,0,0,0,0,0,0,0,0,0.5,0,0.3,0,0,0,0],
[3.0,0,0,4.0,0,0,0,0,0,0,0,0.8,0.4,0,0,0,1.5,0,0,0,0,0,0,0,4,6,0,0,0,0],
[3.8,0,0,5.0,0,0,0,0,0,0,0,1.2,0,0,0,0,0,0,0.5,0,0,0,0,0,0,0,0,4.5,0.8,0],
[3.2,0,0,2.0,0,0,0,0,0,0,0,0.5,0.3,0,0,0,0,0,0,0.5,0,0,0,0,0,0,0,0,0,0],
[4.0,0,0,9.0,0.5,0,0,0,0,0,0,3.5,0.6,0,0.5,0,0,0,0,0,0,0,0,0,2.5,0,0,0,0,3],
[3.6,0,0.4,3.5,0,0,0,0,0,0,0,0.7,0,0,0,0.5,0,0,0,0,0,0,1.2,0,0,0,0,0,0,0],
[3.4,0,0,4.5,0,0,0,0,0,0,0,2.0,0.5,0,0,0,0,0,0,0,3.5,0,0,0,0,0,0.5,0,0,0],
[3.1,0,0,3.0,0,0,0,0,0,0,0,0.4,0,0,1.2,0,0,0.5,0,0,0,2.0,0.3,0,0.5,0,0,1.5,0,0],
[7.0,0,0,11.0,1.0,0,0,0,0,0,0,5.0,0.8,0.3,0,0,0.6,0,0,0,1.5,0,0,0,0,1,0.5,0,0,0],
[4.5,0,0,5.5,0,0,0,0,0,0,0,1.5,0,0,0,0,0,0.8,0,0,0,0,0,2.2,0,0,0,0,0.5,0],
[3.3,0,0,2.5,0,0,0,0,0,0,0,0.6,0.3,0,0,0.7,0,0,0,2,0,0,0,0,0,0.4,0,0,0,0],
[3.9,0,0,6.0,0,0,0,0,0,0,0,1.0,0,0,0,0,0,0,0.6,0,0,0.5,0,0,0,0,5.5,0.5,0,0],
[3.0,0,0,2.5,0,0,0,0,0,0,0,0.5,0,0.8,0,0,0,0,0,0,0,0,0,1.5,0,0,0,0,0,0.5],
[3.5,0,0,5.0,0,0,0,0,0,0,0,1.5,0.5,0,0,0,0,0,1.2,0,0,0,0,0,0,6.5,0,0,0,0],
[5.0,0,0,7.5,0,0,0,0,0,0,0,2.5,0.5,0,0,3.0,0,0,0,0,0,0.6,0,0,0,0,0,0,1.2,0],
[3.2,0,0,3.0,0,0,0,0,0,0,0,0.5,0,0,0,0,0.5,0,0,0,0,0,0,0,0.8,0,0,0.8,0,0],
[3.6,0,0,4.0,0,0,0,0,0,0,0,0.6,0,0,0.4,0,0,0,0,1.8,0,0,0,0,0,0,0,0,0,0.9],
[3.4,0,1.5,3.5,0,0,0,0,0,4.5,0,1.0,0,0,0,0,0,0,0,0,0,0,0,0.5,0,0,0,0,3.5,0],
[3.8,0,0,5.5,1.5,0,0,0,0,0,0,0.5,0,0,0,0,0,1,0,0,0,0,0,0,0,0,1.5,0,0,0],
[3.0,0,0,4.0,0,0,0,0,0,0,0,1.0,0,0,0,0,0,0,0,0,0.4,0,0,0,5,0.5,0,0,0,0],
[4.2,0,0,6.0,0,0,0,0,0,0,0,1.5,0,0.4,0,0,0,0,0,0,0,0,0,0,0,0,0,0,0,0.6],
[3.5,0,0,2.5,0,3.5,0,0,0,0,0,0.5,0,0,0,0,0,0,0,0,0,0,2.8,0,0,0,0,0,0,0],
[3.3,0,0,3.5,0,0,0,0,0,0,0,0.8,0,0,0,0.3,0,0,0,0,0,0,0,0,0,0,0,0,0,0],
[3.1,0,0,4.5,0,0,0,0,0,0,0,7.0,0.5,0,0,0,0,0,0,0,0,0,0,0,0,0,0,0,0.7,0],
[3.7,0,0,3.0,0,0,0,2.5,0,0,0,0.5,0,0,0,0,0,0,0,0,0,1.8,0,0,0,0.4,0,0,0,0],
[3.4,0,0,5.0,0,0,0,0,0,0,0,1.0,0,0,0,0,0,0,0,0.4,0,0,0,0,0,0,0,0,0,0],
[4.8,0,0,8.0,0.5,0,0,0,0,0,0,6.0,1.0,0,0,0,0,0,0,0,0,0,0,0,0,13,0.5,0,0,0],
[3.2,0,0,2.5,0,0,0,0,0,0,0,0.3,0,0,0,0,0,0,0,0,0,0,0,0,0,0,0,3.8,0,0],
[3.5,0,0,4.0,0,0,0,0,0,0,0,0.8,0,0,0.6,0,0,0,0,0,0,0,0,0,0,0,0,0,0,0],
[3.6,0,0,3.0,0,0,0,0,0,0,0,0.6,0,0,0,0,0,0,0,0,0,0,0,0,0,0,0,0,0,0],
[3.0,0,0,3.5,0,0,0,0,0,0,0,0.5,0,0,0,0,0,0,0,0,1.2,0,0,0,0,0,0,0,0,0],
[4.0,0,0,6.5,0,0,0,0,0,0,0,2.0,0.5,0,0,0,0,0,0,0,0,0,0,0,0,9.5,0,0,0,0]];

const FONT = "'DejaVu Sans Mono', 'Liberation Mono', monospace";

export default function App() {
  const x = d3.scaleLinear().domain([0, 360]).range([50, 690]);
  const y = d3.scaleLinear().domain([-45, 30]).range([545, 21]);
  const dayX = d3.scaleLinear().domain([0, 15]).range([50, 690]);
  const gen = d3.line<[number, number]>();

  const pts = (hours: number[], vals: number[], off: number) =>
    vals.map((v, i) => [x(hours[i]), y(v + off)] as [number, number]).filter(p => !isNaN(p[0]));
  const pathOf = (hours: number[], vals: number[], off = 0) => gen(pts(hours, vals, off)) || "";
  const marks = (hours: number[], vals: number[], off = 0) =>
    pts(hours, vals, off).map(([px, py]) => `M${px - 1.5},${py}h3M${px},${py - 1.5}v3`).join("");

  const memberSets: { data: number[][]; hours: number[]; off: number }[] = [
    { data: t850Members, hours: HOURS12, off: 0 },
    { data: t500Members, hours: HOURS12, off: 0 },
    { data: precipMembers, hours: PHOURS12, off: -45 },
  ];

  return (
    <svg width={740} height={700} style={{ position: "absolute", left: 0, top: 0, background: "#fff" }}
      fontFamily={FONT}>
      <rect x={0} y={0} width={740} height={700} fill="#fff" />
      {dayLabels.map((_, i) => (
        <line key={"v" + i} x1={dayX(i)} x2={dayX(i)} y1={0} y2={600} stroke="#c0c0c0" strokeWidth={1} shapeRendering="crispEdges" />
      ))}
      {leftTicks.map(t => (
        <line key={"h" + t} x1={50} x2={690} y1={Math.round(y(t))} y2={Math.round(y(t))}
          stroke={t === 0 ? "#888" : "#c0c0c0"} strokeWidth={t % 10 === 0 ? 2 : 1} shapeRendering="crispEdges" />
      ))}
      <line x1={50} x2={690} y1={600} y2={600} stroke="#999" strokeWidth={1} shapeRendering="crispEdges" />

      {leftTicks.map(t => (
        <text key={"l" + t} x={20} y={y(t) + 7} fontSize={10} fill="#000">{t}</text>
      ))}
      {rightTicks.map((t, i) => (
        <text key={"r" + t} x={708} y={y(leftTicks[i]) + 7} fontSize={10} fill="#000">{t}</text>
      ))}
      {dayLabels.map((d, i) => (
        <text key={"d" + i} transform={`translate(${dayX(i) + 11.5},631) rotate(-90)`} fontSize={10} fill="#000">{d}</text>
      ))}
      <text x={20} y={609} fontSize={10}>(°C)</text>
      <text x={710} y={610} fontSize={10}>(mm)</text>

      <text x={60} y={228.5} fontSize={10}>Temp. 850hPa</text>
      <text x={60} y={385} fontSize={10}>Temp. 500hPa</text>
      <text x={60} y={413} fontSize={10}>Précipitations</text>

      {memberSets.map((set, s) =>
        set.data.map((vals, m) => (
          <g key={`m${s}-${m}`} stroke={memberColors[m]} fill="none" strokeWidth={1}>
            <path d={pathOf(set.hours, vals, set.off)} />
            <path d={marks(set.hours, vals, set.off)} />
          </g>
        ))
      )}

      <g stroke="#000" strokeWidth={3} fill="none" strokeLinejoin="round">
        <path d={pathOf(HOURS6, t850Ctrl)} />
        <path d={pathOf(HOURS6, t500Ctrl)} />
        <path d={pathOf(PHOURS6, precipCtrl, -45)} />
      </g>
      <g stroke="#ff0000" strokeWidth={4} fill="none" strokeLinejoin="round">
        <path d={pathOf(HOURS6, t850Mean)} />
        <path d={pathOf(HOURS6, t500Mean)} />
        <path d={pathOf(PHOURS6, precipMean, -45)} />
      </g>

      <line x1={35} x2={65} y1={640} y2={640} stroke="#ff0000" strokeWidth={5} />
      <text x={74} y={643} fontSize={10}>Moyenne des scénarios</text>
      <line x1={225} x2={255} y1={640} y2={640} stroke="#000" strokeWidth={4} />
      <text x={264} y={643} fontSize={10}>Contrôle/Det</text>
      <text x={264} y={655} fontSize={10}>CEP/ECMWF</text>
      <text x={369} y={656} fontSize={10}>50 Perts.</text>
      {memberColors.map((c, i) => {
        const col = i % 25;
        const row = Math.floor(i / 25);
        const sx = 430 + col * 11;
        return (
          <g key={"sw" + i}>
            <rect x={sx} y={645 + row * 6} width={10} height={6} fill={c} />
            <text x={sx + 5} y={row === 0 ? 643.5 : 664} fontSize={8} fontWeight="bold" textAnchor="middle">
              {String(i + 1).padStart(2, "0")}
            </text>
          </g>
        );
      })}

      <rect x={20.5} y={667.5} width={420} height={32} fill="#fff" stroke="#000" strokeWidth={1} />
      <text x={29} y={682} fontSize={11.6} fontWeight="bold">Diagramme ensembles ECMWF/CEP 0.25° sur 360h pour Strasbourg</text>
      <text x={29} y={695} fontSize={10}>Températures 850hPa et 500hPa (°C) , précipitations (mm)</text>
      <text x={449} y={680} fontSize={10}>Ensemble ECMWF/CEP du 20/11/2024 - 00Z</text>
      <text x={449} y={695} fontSize={11.6} fontWeight="bold">Copyright 2024 Meteociel.fr - ECMWF</text>
    </svg>
  );
}
